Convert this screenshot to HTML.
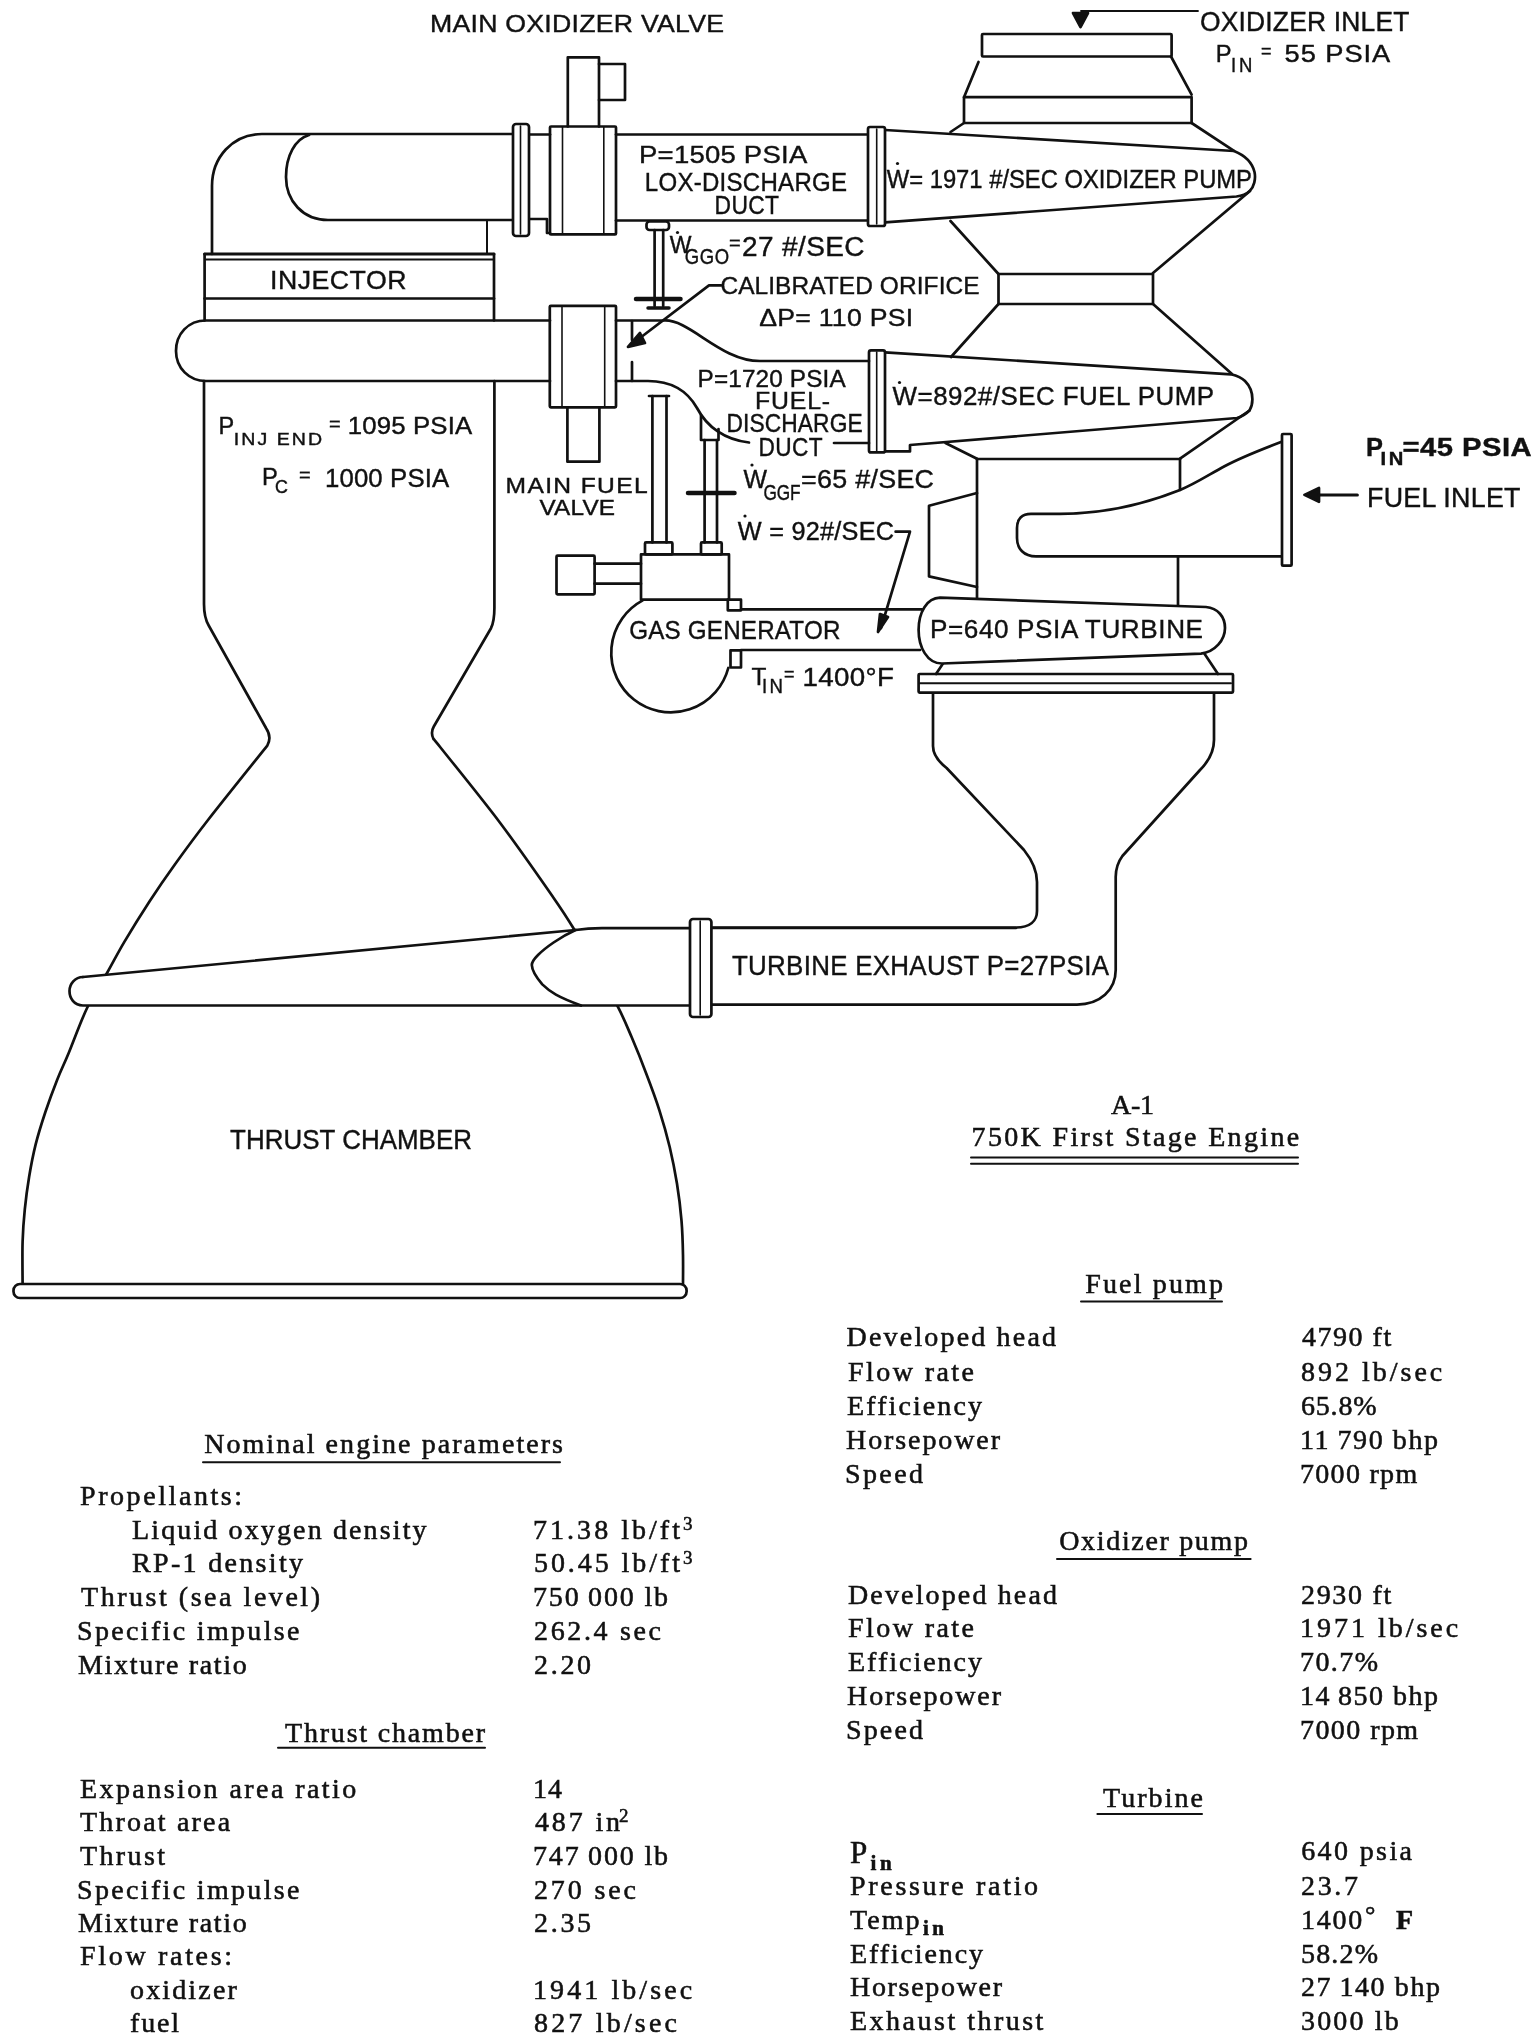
<!DOCTYPE html>
<html><head><meta charset="utf-8"><style>
html,body{margin:0;padding:0;background:#fff;}
body{width:1539px;height:2041px;overflow:hidden;}
svg{display:block;filter:grayscale(1);}
</style></head><body>
<svg width="1539" height="2041" viewBox="0 0 1539 2041">
<rect width="1539" height="2041" fill="#fff"/>
<g id="draw" fill="none" stroke="#111" stroke-width="2.7" stroke-linecap="round" stroke-linejoin="round">
<path d="M212,254 V186 C212,158 232,134 262,134 H513"/>
<path d="M309,135 C295,139 286,156 286,177 C286,201 303,220 328,220 H513"/>
<path d="M529,134.5 L550,134.5"/>
<path d="M529,219 H547 V233 H550"/>
<path d="M616,134.5 L868,134.5"/>
<path d="M616,220.5 L868,220.5"/>
<rect x="513.0" y="124.0" width="16.0" height="112.0" rx="3" fill="#fff"/>
<path d="M520.5,126 L520.5,234" stroke-width="1.6"/>
<rect x="550.0" y="126.5" width="66.0" height="107.9" rx="1"/>
<path d="M562.5,127 L562.5,234" stroke-width="1.6"/>
<path d="M603.8,127 L603.8,234" stroke-width="1.6"/>
<path d="M567.8,126.5 V57.3 H599 V126.5"/>
<path d="M599,64 H625 V100 H599"/>
<path d="M487,220 L487,254" stroke-width="2"/>
<path d="M204.6,254 L494,254" stroke-width="3"/>
<path d="M206,259.5 L493,259.5" stroke-width="2"/>
<path d="M204.6,254 L204.6,320.5"/>
<path d="M494,254 L494,320.5"/>
<path d="M204.6,298.5 L494,298.5"/>
<path d="M550,320.5 H206 C188,320.5 176,334 176,351 C176,368 189,381 206,381 H550"/>
<rect x="549.8" y="305.8" width="66.2" height="101.5" rx="1"/>
<path d="M562,306.5 L562,407" stroke-width="1.6"/>
<path d="M604.7,306.5 L604.7,407" stroke-width="1.6"/>
<path d="M567.4,407.3 V461.7 H599.4 V407.3"/>
<path d="M204,381 V604 C204,614 205.5,620 208.7,625.5 L266,728 C270,734 270.5,740 267.3,745.6 C257.4,758.0 223.3,800.3 208.0,820.0 C192.7,839.7 184.9,850.5 175.2,864.0 C165.5,877.5 158.2,888.1 149.8,901.0 C141.4,913.9 131.5,929.8 124.5,941.6 C117.5,953.4 113.8,961.0 107.6,972.0 C101.4,983.0 93.8,994.0 87.3,1007.5 C80.8,1021.0 73.7,1040.9 68.7,1053.0 C63.7,1065.1 61.0,1070.1 57.1,1080.0 C53.2,1089.9 48.9,1101.5 45.3,1112.3 C41.7,1123.1 38.3,1133.9 35.6,1144.7 C32.9,1155.5 30.9,1166.2 29.1,1177.0 C27.3,1187.8 25.9,1198.6 24.8,1209.4 C23.7,1220.2 23.0,1229.3 22.6,1241.7 C22.2,1254.1 22.6,1277.0 22.6,1284.0"/>
<path d="M494.4,381 V608 C494.4,618 493,624 491,628.2 L433.8,726.5 C431.5,730.5 431.5,735 433.5,739 C434.7,740.4 429.4,733.5 440.5,747.5 C451.6,761.5 481.5,798.1 500.2,823.0 C518.9,847.9 540.5,879.0 552.8,896.7 C565.1,914.4 566.7,917.1 573.9,929.0 C581.1,940.9 588.6,954.9 596.0,968.0 C603.4,981.1 612.3,995.9 618.2,1007.4 C624.1,1018.9 626.8,1025.8 631.5,1036.8 C636.2,1047.8 641.6,1061.2 646.2,1073.5 C650.9,1085.8 655.5,1098.0 659.4,1110.3 C663.3,1122.5 666.8,1134.8 669.7,1147.0 C672.6,1159.2 675.0,1171.5 677.0,1183.8 C679.0,1196.1 680.5,1208.7 681.5,1220.6 C682.5,1232.5 682.8,1244.4 683.0,1255.0 C683.2,1265.6 683.0,1279.2 683.0,1284.0"/>
<rect x="13.5" y="1284.0" width="673.1" height="14.0" rx="6.5" fill="#fff"/>
<path d="M83,977 L575.6,930 L602,928.2 H690 V1005.5 H83 C74,1005.5 69.5,998 69.5,991 C69.5,984 75,977 83,977 Z" fill="#fff" stroke="none"/>
<path d="M83,977 L575.6,930 C585,928.6 592,928.2 602,928.2 H690"/>
<path d="M690,1005.5 H83 C74,1005.5 69.5,998 69.5,991 C69.5,984 75,977 83,977"/>
<path d="M575.6,930 C560,937 545,948 538,955 C533,960 531.8,963 531.8,965 C532,970 536,977 542.3,984.4 C550,992 558,997 581,1005.5"/>
<path d="M711.4,928 L1016,928"/>
<path d="M933,692.6 V746 C933,755 939,762 946.6,768 L1024,850 C1032,860 1037,870 1037,882 V911 C1037,921 1030,927.5 1016,927.5 H711.4"/>
<path d="M1214,692.6 V740 C1214,752 1208,762 1200,770 L1122.4,856 C1118,862 1115.7,868 1115.7,877 V970 C1115.7,990 1100,1004.6 1077,1004.6 H711.4"/>
<rect x="690.0" y="919.0" width="21.4" height="98.0" rx="3" fill="#fff"/>
<path d="M700.2,921 L700.2,1015" stroke-width="1.6"/>
<rect x="918.6" y="674.0" width="314.4" height="18.6" rx="1" fill="#fff"/>
<path d="M920,683.3 L1231,683.3" stroke-width="2"/>
<path d="M936,674 L944,662"/>
<path d="M1218,674 L1204,653"/>
<path d="M940,597.7 L1206,607 C1218,608 1225,617 1225,628 C1225,640 1215,652 1201,653.6 L942,663.5 C927,663.5 918.6,647 918.6,630 C918.6,612 927,598 940,597.7 Z" fill="#fff"/>
<path d="M977,459 L1180,459"/>
<path d="M977,459 L977,597.7"/>
<path d="M1180,459 L1180,490"/>
<path d="M1178,556.4 L1178,604.5"/>
<path d="M977,493 L929,505.8 V576.4 L977,587"/>
<path d="M1281,442 C1260,450 1240,458 1225,466 C1210,474 1195,484 1180,490 C1140,506 1100,513.8 1060,513.8 H1031 C1022,513.8 1017,519 1017,528 V538 C1017,549 1024,556.4 1036,556.4 H1282"/>
<rect x="1282.0" y="434.0" width="9.6" height="131.7" rx="1" fill="#fff"/>
<path d="M885,352.3 L1231,374.3 C1238,376 1242,378 1245,381 C1249,385 1252.4,392 1252.4,399.3 C1252.4,405 1251,408 1249.5,410.5 C1246,414 1242,416.5 1237,418 L910,445 V451.4 H885"/>
<path d="M951,357 L998.5,304"/>
<path d="M1153,304 L1232,374"/>
<path d="M945.5,443 L977,458.7"/>
<path d="M1249.5,410.5 L1180,458.7"/>
<rect x="869.0" y="350.4" width="16.0" height="102.0" rx="2" fill="#fff"/>
<path d="M876.7,352 L876.7,451" stroke-width="1.6"/>
<rect x="998.5" y="274.0" width="154.5" height="30.0" rx="0"/>
<path d="M885,130 L1234,151 C1244,155 1252,162 1254.5,172 C1256,179 1254,187 1249.7,191 C1246,194.5 1241,196 1236.4,196.5 L885,222.4"/>
<rect x="868.0" y="127.0" width="17.0" height="99.0" rx="2" fill="#fff"/>
<path d="M876.7,129 L876.7,224" stroke-width="1.6"/>
<path d="M950.5,221 L998.5,274"/>
<path d="M1250,191 L1153,273"/>
<path d="M950.5,132 L964,123"/>
<path d="M1191.6,123 L1234,150.8"/>
<path d="M964,97.2 H1191.6 V123 H964 Z"/>
<path d="M978.5,62 L964,97.2"/>
<path d="M1171,56.5 L1191.6,94.6"/>
<rect x="982.0" y="34.0" width="189.6" height="22.5" rx="1"/>
<path d="M1081,11 L1198,11" stroke-width="1.8"/>
<path d="M1073,13 L1088,13 L1080.5,27 Z" fill="#111"/>
<rect x="646.5" y="221.5" width="22.5" height="8.5" rx="3"/>
<path d="M654.6,230 L654.6,306"/>
<path d="M663.2,230 L663.2,306"/>
<path d="M636,299 L680.5,299" stroke-width="4.5"/>
<path d="M648,308 L669,308" stroke-width="3.5"/>
<path d="M632,321 L632,340"/>
<path d="M632,362 L632,381"/>
<path d="M721,285.4 H709 L636,341"/>
<path d="M628,347 L640,333 L645,343 Z" fill="#111"/>
<path d="M616,320.5 H664 C690,319 720,361 760,361 H869"/>
<path d="M616,381 H648 C672,381 688,392 697,408 C707,427 725,440 749,442.5"/>
<path d="M834,443 L869,443"/>
<path d="M649,396 L669,396"/>
<path d="M652.4,396 L652.4,542.4"/>
<path d="M666.5,396 L666.5,542.4"/>
<path d="M701,415 V440 H718.5 V429"/>
<path d="M704.6,440 L704.6,542.4"/>
<path d="M717,440 L717,542.4"/>
<path d="M688,493 L734.5,493" stroke-width="4.5"/>
<rect x="645.0" y="542.4" width="27.4" height="12.0" rx="1"/>
<rect x="701.0" y="542.4" width="20.7" height="12.0" rx="1"/>
<rect x="641.0" y="554.4" width="88.0" height="45.3" rx="0"/>
<path d="M594.6,563.7 L641,563.7"/>
<path d="M594.6,583.7 L641,583.7"/>
<rect x="556.5" y="555.7" width="38.1" height="38.6" rx="1"/>
<rect x="727.8" y="599.7" width="13.2" height="10.6" rx="0"/>
<path d="M642.7,600.4 A59.5,59.5 0 1 0 728.3,668"/>
<rect x="730.5" y="650.3" width="10.5" height="17.2" rx="0"/>
<path d="M741,609.3 L922,609.3"/>
<path d="M741,650 L920,650"/>
<path d="M895.6,531.7 H910 L881,628"/>
<path d="M878,632 L880,614 L888,617 Z" fill="#111"/>
<circle cx="677.5" cy="232.5" r="1.6" fill="#111" stroke="none"/>
<circle cx="897.5" cy="163.5" r="1.6" fill="#111" stroke="none"/>
<circle cx="752" cy="465" r="1.6" fill="#111" stroke="none"/>
<circle cx="899.5" cy="382.5" r="1.6" fill="#111" stroke="none"/>
<circle cx="745" cy="516" r="1.6" fill="#111" stroke="none"/>
<path d="M1316,494.9 L1357.4,494.9" stroke-width="3"/>
<path d="M1304.4,494.9 L1319,488 L1319,501.8 Z" fill="#111"/>
<path d="M971,1157.6 H1298" stroke-width="2"/>
<path d="M971,1163.7 H1298" stroke-width="2"/>
<path d="M1081,1301.5 H1222" stroke-width="2"/>
<path d="M203,1462.3 H560" stroke-width="2"/>
<path d="M278,1747.7 H485" stroke-width="2"/>
<path d="M1057,1559 H1250.6" stroke-width="2"/>
<path d="M1097.4,1814 H1202" stroke-width="2"/>
</g>
<g id="text" fill="#111">
<text id="t0" transform="translate(430.0,0) scale(1.107,1)" x="0" y="32.2" font-size="24.1" font-family='"Liberation Sans", sans-serif' textLength="265.6" lengthAdjust="spacing" stroke="#111" stroke-width="0.4">MAIN OXIDIZER VALVE</text>
<text id="t1" transform="translate(1200.0,0) scale(0.991,1)" x="0" y="31.4" font-size="26.7" font-family='"Liberation Sans", sans-serif' textLength="211.3" lengthAdjust="spacing" stroke="#111" stroke-width="0.4">OXIDIZER INLET</text>
<text id="t2" transform="translate(1215.8,0) scale(1.0,1)" x="0" y="62.2" font-size="23.7" font-family='"Liberation Sans", sans-serif' stroke="#111" stroke-width="0.4">P</text>
<text id="t3" transform="translate(1231.0,0) scale(0.949,1)" x="0" y="72.2" font-size="19.5" font-family='"Liberation Sans", sans-serif' textLength="22.6" lengthAdjust="spacing" stroke="#111" stroke-width="0.4">IN</text>
<text id="t4" transform="translate(1261.0,0) scale(1.0,1)" x="0" y="57.0" font-size="18.0" font-family='"Liberation Sans", sans-serif' stroke="#111" stroke-width="0.4">=</text>
<text id="t5" transform="translate(1284.6,0) scale(1.15,1)" x="0" y="62.2" font-size="23.7" font-family='"Liberation Sans", sans-serif' textLength="91.8" lengthAdjust="spacing" stroke="#111" stroke-width="0.4">55 PSIA</text>
<text id="t6" transform="translate(639.0,0) scale(1.127,1)" x="0" y="163.0" font-size="24.4" font-family='"Liberation Sans", sans-serif' textLength="149.3" lengthAdjust="spacing" stroke="#111" stroke-width="0.4">P=1505 PSIA</text>
<text id="t7" transform="translate(644.8,0) scale(0.918,1)" x="0" y="191.2" font-size="26.2" font-family='"Liberation Sans", sans-serif' textLength="220.3" lengthAdjust="spacing" stroke="#111" stroke-width="0.4">LOX-DISCHARGE</text>
<text id="t8" transform="translate(714.6,0) scale(0.892,1)" x="0" y="213.6" font-size="25.6" font-family='"Liberation Sans", sans-serif' textLength="72.2" lengthAdjust="spacing" stroke="#111" stroke-width="0.4">DUCT</text>
<text id="t9" transform="translate(886.8,0) scale(0.956,1)" x="0" y="188.4" font-size="24.9" font-family='"Liberation Sans", sans-serif' textLength="382.0" lengthAdjust="spacing" stroke="#111" stroke-width="0.4">W= 1971 #/SEC OXIDIZER PUMP</text>
<text id="t10" transform="translate(270.0,0) scale(1.028,1)" x="0" y="288.6" font-size="26.0" font-family='"Liberation Sans", sans-serif' textLength="132.8" lengthAdjust="spacing" stroke="#111" stroke-width="0.4">INJECTOR</text>
<text id="t11" transform="translate(669.8,0) scale(1.0,1)" x="0" y="253.3" font-size="23.0" font-family='"Liberation Sans", sans-serif' stroke="#111" stroke-width="0.4">W</text>
<text id="t12" transform="translate(684.8,0) scale(0.871,1)" x="0" y="264.4" font-size="21.2" font-family='"Liberation Sans", sans-serif' textLength="51.0" lengthAdjust="spacing" stroke="#111" stroke-width="0.4">GGO</text>
<text id="t13" transform="translate(729.0,0) scale(1.0,1)" x="0" y="250.0" font-size="20.0" font-family='"Liberation Sans", sans-serif' stroke="#111" stroke-width="0.4">=</text>
<text id="t14" transform="translate(742.0,0) scale(1.036,1)" x="0" y="255.8" font-size="27.0" font-family='"Liberation Sans", sans-serif' textLength="118.2" lengthAdjust="spacing" stroke="#111" stroke-width="0.4">27 #/SEC</text>
<text id="t15" transform="translate(720.4,0) scale(0.99,1)" x="0" y="294.0" font-size="24.7" font-family='"Liberation Sans", sans-serif' textLength="261.8" lengthAdjust="spacing" stroke="#111" stroke-width="0.4">CALIBRATED ORIFICE</text>
<text id="t16" transform="translate(759.2,0) scale(1.119,1)" x="0" y="326.1" font-size="23.8" font-family='"Liberation Sans", sans-serif' textLength="137.5" lengthAdjust="spacing" stroke="#111" stroke-width="0.4">ΔP= 110 PSI</text>
<text id="t17" transform="translate(697.6,0) scale(1.056,1)" x="0" y="386.6" font-size="23.0" font-family='"Liberation Sans", sans-serif' textLength="140.2" lengthAdjust="spacing" stroke="#111" stroke-width="0.4">P=1720 PSIA</text>
<text id="t18" transform="translate(755.0,0) scale(1.017,1)" x="0" y="409.0" font-size="24.4" font-family='"Liberation Sans", sans-serif' textLength="73.9" lengthAdjust="spacing" stroke="#111" stroke-width="0.4">FUEL-</text>
<text id="t19" transform="translate(726.6,0) scale(0.914,1)" x="0" y="431.8" font-size="24.9" font-family='"Liberation Sans", sans-serif' textLength="148.8" lengthAdjust="spacing" stroke="#111" stroke-width="0.4">DISCHARGE</text>
<text id="t20" transform="translate(758.4,0) scale(0.911,1)" x="0" y="455.8" font-size="24.9" font-family='"Liberation Sans", sans-serif' textLength="70.5" lengthAdjust="spacing" stroke="#111" stroke-width="0.4">DUCT</text>
<text id="t21" transform="translate(892.6,0) scale(1.02,1)" x="0" y="405.5" font-size="25.4" font-family='"Liberation Sans", sans-serif' textLength="315.1" lengthAdjust="spacing" stroke="#111" stroke-width="0.4">W=892#/SEC  FUEL PUMP</text>
<text id="t22" transform="translate(218.6,0) scale(1.0,1)" x="0" y="434.4" font-size="23.5" font-family='"Liberation Sans", sans-serif' stroke="#111" stroke-width="0.4">P</text>
<text id="t23" transform="translate(233.8,0) scale(1.15,1)" x="0" y="444.8" font-size="17.0" font-family='"Liberation Sans", sans-serif' textLength="76.7" lengthAdjust="spacing" stroke="#111" stroke-width="0.4">INJ END</text>
<text id="t24" transform="translate(329.0,0) scale(1.0,1)" x="0" y="431.0" font-size="20.0" font-family='"Liberation Sans", sans-serif' stroke="#111" stroke-width="0.4">=</text>
<text id="t25" transform="translate(347.8,0) scale(1.096,1)" x="0" y="434.4" font-size="23.5" font-family='"Liberation Sans", sans-serif' textLength="113.5" lengthAdjust="spacing" stroke="#111" stroke-width="0.4">1095 PSIA</text>
<text id="t26" transform="translate(262.0,0) scale(1.0,1)" x="0" y="485.2" font-size="23.7" font-family='"Liberation Sans", sans-serif' stroke="#111" stroke-width="0.4">P</text>
<text id="t27" transform="translate(275.0,0) scale(1.0,1)" x="0" y="493.2" font-size="17.9" font-family='"Liberation Sans", sans-serif' stroke="#111" stroke-width="0.4">C</text>
<text id="t28" transform="translate(299.0,0) scale(1.0,1)" x="0" y="482.0" font-size="20.0" font-family='"Liberation Sans", sans-serif' stroke="#111" stroke-width="0.4">=</text>
<text id="t29" transform="translate(325.0,0) scale(0.996,1)" x="0" y="486.7" font-size="25.9" font-family='"Liberation Sans", sans-serif' textLength="124.7" lengthAdjust="spacing" stroke="#111" stroke-width="0.4">1000 PSIA</text>
<text id="t30" transform="translate(505.6,0) scale(1.15,1)" x="0" y="493.2" font-size="21.4" font-family='"Liberation Sans", sans-serif' textLength="123.5" lengthAdjust="spacing" stroke="#111" stroke-width="0.4">MAIN FUEL</text>
<text id="t31" transform="translate(539.4,0) scale(1.131,1)" x="0" y="515.0" font-size="21.5" font-family='"Liberation Sans", sans-serif' textLength="66.9" lengthAdjust="spacing" stroke="#111" stroke-width="0.4">VALVE</text>
<text id="t32" transform="translate(743.6,0) scale(1.0,1)" x="0" y="487.8" font-size="24.9" font-family='"Liberation Sans", sans-serif' stroke="#111" stroke-width="0.4">W</text>
<text id="t33" transform="translate(763.4,0) scale(0.8,1)" x="0" y="500.0" font-size="21.5" font-family='"Liberation Sans", sans-serif' textLength="46.3" lengthAdjust="spacing" stroke="#111" stroke-width="0.4">GGF</text>
<text id="t34" transform="translate(801.0,0) scale(1.071,1)" x="0" y="488.0" font-size="25.1" font-family='"Liberation Sans", sans-serif' textLength="124.2" lengthAdjust="spacing" stroke="#111" stroke-width="0.4">=65 #/SEC</text>
<text id="t35" transform="translate(737.8,0) scale(0.996,1)" x="0" y="539.7" font-size="25.4" font-family='"Liberation Sans", sans-serif' textLength="156.9" lengthAdjust="spacing" stroke="#111" stroke-width="0.4">W = 92#/SEC</text>
<text id="t36" transform="translate(1366.0,0) scale(1.0,1)" x="0" y="456.2" font-size="25.4" font-family='"Liberation Sans", sans-serif' font-weight="bold" stroke="#111" stroke-width="0.4">P</text>
<text id="t37" transform="translate(1380.6,0) scale(1.122,1)" x="0" y="464.6" font-size="18.0" font-family='"Liberation Sans", sans-serif' font-weight="bold" textLength="20.2" lengthAdjust="spacing" stroke="#111" stroke-width="0.4">IN</text>
<text id="t38" transform="translate(1402.4,0) scale(1.15,1)" x="0" y="456.2" font-size="25.4" font-family='"Liberation Sans", sans-serif' font-weight="bold" textLength="112.4" lengthAdjust="spacing" stroke="#111" stroke-width="0.4">=45 PSIA</text>
<text id="t39" transform="translate(1367.0,0) scale(0.998,1)" x="0" y="506.7" font-size="26.9" font-family='"Liberation Sans", sans-serif' textLength="153.8" lengthAdjust="spacing" stroke="#111" stroke-width="0.4">FUEL INLET</text>
<text id="t40" transform="translate(629.2,0) scale(0.906,1)" x="0" y="638.6" font-size="26.7" font-family='"Liberation Sans", sans-serif' textLength="233.1" lengthAdjust="spacing" stroke="#111" stroke-width="0.4">GAS GENERATOR</text>
<text id="t41" transform="translate(930.0,0) scale(0.985,1)" x="0" y="638.2" font-size="26.5" font-family='"Liberation Sans", sans-serif' textLength="277.2" lengthAdjust="spacing" stroke="#111" stroke-width="0.4">P=640 PSIA  TURBINE</text>
<text id="t42" transform="translate(751.6,0) scale(1.0,1)" x="0" y="685.0" font-size="24.4" font-family='"Liberation Sans", sans-serif' stroke="#111" stroke-width="0.4">T</text>
<text id="t43" transform="translate(762.0,0) scale(0.949,1)" x="0" y="693.0" font-size="19.6" font-family='"Liberation Sans", sans-serif' textLength="22.0" lengthAdjust="spacing" stroke="#111" stroke-width="0.4">IN</text>
<text id="t44" transform="translate(784.0,0) scale(1.0,1)" x="0" y="680.0" font-size="18.0" font-family='"Liberation Sans", sans-serif' stroke="#111" stroke-width="0.4">=</text>
<text id="t45" transform="translate(802.4,0) scale(1.114,1)" x="0" y="685.7" font-size="24.9" font-family='"Liberation Sans", sans-serif' textLength="82.1" lengthAdjust="spacing" stroke="#111" stroke-width="0.4">1400°F</text>
<text id="t46" transform="translate(732.0,0) scale(0.95,1)" x="0" y="975.0" font-size="27.3" font-family='"Liberation Sans", sans-serif' textLength="396.8" lengthAdjust="spacing" stroke="#111" stroke-width="0.4">TURBINE EXHAUST  P=27PSIA</text>
<text id="t47" transform="translate(230.0,0) scale(0.949,1)" x="0" y="1149.0" font-size="27.3" font-family='"Liberation Sans", sans-serif' textLength="255.0" lengthAdjust="spacing" stroke="#111" stroke-width="0.4">THRUST CHAMBER</text>
<text id="t48" transform="translate(1111.0,0) scale(1.0,1)" x="0" y="1113.7" font-size="28.0" font-family='"Liberation Serif", serif' textLength="43.0" lengthAdjust="spacing" stroke="#111" stroke-width="0.55">A-1</text>
<text id="t49" transform="translate(971.6,0) scale(1.0,1)" x="0" y="1146.0" font-size="28.0" font-family='"Liberation Serif", serif' textLength="327.6" lengthAdjust="spacing" stroke="#111" stroke-width="0.55">750K First Stage Engine</text>
<text id="t50" transform="translate(1085.2,0) scale(1.0,1)" x="0" y="1293.2" font-size="28.0" font-family='"Liberation Serif", serif' textLength="137.8" lengthAdjust="spacing" stroke="#111" stroke-width="0.55">Fuel pump</text>
<text id="t51" transform="translate(204.2,0) scale(1.0,1)" x="0" y="1452.7" font-size="28.0" font-family='"Liberation Serif", serif' textLength="358.8" lengthAdjust="spacing" stroke="#111" stroke-width="0.55">Nominal engine parameters</text>
<text id="t52" transform="translate(285.0,0) scale(1.0,1)" x="0" y="1742.3" font-size="28.0" font-family='"Liberation Serif", serif' textLength="200.0" lengthAdjust="spacing" stroke="#111" stroke-width="0.55">Thrust chamber</text>
<text id="t53" transform="translate(1059.2,0) scale(1.0,1)" x="0" y="1550.0" font-size="28.0" font-family='"Liberation Serif", serif' textLength="188.8" lengthAdjust="spacing" stroke="#111" stroke-width="0.55">Oxidizer pump</text>
<text id="t54" transform="translate(1103.0,0) scale(1.0,1)" x="0" y="1807.4" font-size="28.0" font-family='"Liberation Serif", serif' textLength="100.0" lengthAdjust="spacing" stroke="#111" stroke-width="0.55">Turbine</text>
<text id="t55" transform="translate(80.0,0) scale(1.0,1)" x="0" y="1504.7" font-size="28.0" font-family='"Liberation Serif", serif' textLength="162.1" lengthAdjust="spacing" stroke="#111" stroke-width="0.55">Propellants:</text>
<text id="t56" transform="translate(132.0,0) scale(1.0,1)" x="0" y="1538.8" font-size="28.0" font-family='"Liberation Serif", serif' textLength="294.6" lengthAdjust="spacing" stroke="#111" stroke-width="0.55">Liquid oxygen density</text>
<text id="t57" transform="translate(533.0,0) scale(1.0,1)" x="0" y="1538.8" font-size="28.0" font-family='"Liberation Serif", serif' textLength="147.0" lengthAdjust="spacing" stroke="#111" stroke-width="0.55">71.38 lb/ft</text>
<text id="t58" transform="translate(132.0,0) scale(1.0,1)" x="0" y="1572.3" font-size="28.0" font-family='"Liberation Serif", serif' textLength="171.0" lengthAdjust="spacing" stroke="#111" stroke-width="0.55">RP-1 density</text>
<text id="t59" transform="translate(534.0,0) scale(1.0,1)" x="0" y="1572.3" font-size="28.0" font-family='"Liberation Serif", serif' textLength="146.0" lengthAdjust="spacing" stroke="#111" stroke-width="0.55">50.45 lb/ft</text>
<text id="t60" transform="translate(81.0,0) scale(1.0,1)" x="0" y="1606.0" font-size="28.0" font-family='"Liberation Serif", serif' textLength="239.0" lengthAdjust="spacing" stroke="#111" stroke-width="0.55">Thrust (sea level)</text>
<text id="t61" transform="translate(533.0,0) scale(1.0,1)" x="0" y="1606.0" font-size="28.0" font-family='"Liberation Serif", serif' textLength="135.1" lengthAdjust="spacing" stroke="#111" stroke-width="0.55">750 000 lb</text>
<text id="t62" transform="translate(77.0,0) scale(1.0,1)" x="0" y="1640.3" font-size="28.0" font-family='"Liberation Serif", serif' textLength="222.5" lengthAdjust="spacing" stroke="#111" stroke-width="0.55">Specific impulse</text>
<text id="t63" transform="translate(534.0,0) scale(1.0,1)" x="0" y="1640.3" font-size="28.0" font-family='"Liberation Serif", serif' textLength="127.0" lengthAdjust="spacing" stroke="#111" stroke-width="0.55">262.4 sec</text>
<text id="t64" transform="translate(78.0,0) scale(1.0,1)" x="0" y="1673.8" font-size="28.0" font-family='"Liberation Serif", serif' textLength="168.8" lengthAdjust="spacing" stroke="#111" stroke-width="0.55">Mixture ratio</text>
<text id="t65" transform="translate(534.0,0) scale(1.0,1)" x="0" y="1673.8" font-size="28.0" font-family='"Liberation Serif", serif' textLength="57.1" lengthAdjust="spacing" stroke="#111" stroke-width="0.55">2.20</text>
<text id="t66" transform="translate(80.0,0) scale(1.0,1)" x="0" y="1797.8" font-size="28.0" font-family='"Liberation Serif", serif' textLength="276.2" lengthAdjust="spacing" stroke="#111" stroke-width="0.55">Expansion area ratio</text>
<text id="t67" transform="translate(533.0,0) scale(1.0,1)" x="0" y="1797.8" font-size="28.0" font-family='"Liberation Serif", serif' textLength="29.1" lengthAdjust="spacing" stroke="#111" stroke-width="0.55">14</text>
<text id="t68" transform="translate(80.0,0) scale(1.0,1)" x="0" y="1831.0" font-size="28.0" font-family='"Liberation Serif", serif' textLength="150.1" lengthAdjust="spacing" stroke="#111" stroke-width="0.55">Throat area</text>
<text id="t69" transform="translate(535.0,0) scale(1.0,1)" x="0" y="1831.0" font-size="28.0" font-family='"Liberation Serif", serif' textLength="85.0" lengthAdjust="spacing" stroke="#111" stroke-width="0.55">487 in</text>
<text id="t70" transform="translate(80.0,0) scale(1.0,1)" x="0" y="1864.6" font-size="28.0" font-family='"Liberation Serif", serif' textLength="85.0" lengthAdjust="spacing" stroke="#111" stroke-width="0.55">Thrust</text>
<text id="t71" transform="translate(533.0,0) scale(1.0,1)" x="0" y="1864.6" font-size="28.0" font-family='"Liberation Serif", serif' textLength="135.1" lengthAdjust="spacing" stroke="#111" stroke-width="0.55">747 000 lb</text>
<text id="t72" transform="translate(77.0,0) scale(1.0,1)" x="0" y="1898.7" font-size="28.0" font-family='"Liberation Serif", serif' textLength="222.5" lengthAdjust="spacing" stroke="#111" stroke-width="0.55">Specific impulse</text>
<text id="t73" transform="translate(534.0,0) scale(1.0,1)" x="0" y="1898.7" font-size="28.0" font-family='"Liberation Serif", serif' textLength="102.0" lengthAdjust="spacing" stroke="#111" stroke-width="0.55">270 sec</text>
<text id="t74" transform="translate(78.0,0) scale(1.0,1)" x="0" y="1931.5" font-size="28.0" font-family='"Liberation Serif", serif' textLength="168.8" lengthAdjust="spacing" stroke="#111" stroke-width="0.55">Mixture ratio</text>
<text id="t75" transform="translate(534.0,0) scale(1.0,1)" x="0" y="1931.5" font-size="28.0" font-family='"Liberation Serif", serif' textLength="57.1" lengthAdjust="spacing" stroke="#111" stroke-width="0.55">2.35</text>
<text id="t76" transform="translate(80.0,0) scale(1.0,1)" x="0" y="1965.0" font-size="28.0" font-family='"Liberation Serif", serif' textLength="152.1" lengthAdjust="spacing" stroke="#111" stroke-width="0.55">Flow rates:</text>
<text id="t77" transform="translate(130.0,0) scale(1.0,1)" x="0" y="1999.0" font-size="28.0" font-family='"Liberation Serif", serif' textLength="106.8" lengthAdjust="spacing" stroke="#111" stroke-width="0.55">oxidizer</text>
<text id="t78" transform="translate(533.0,0) scale(1.0,1)" x="0" y="1999.0" font-size="28.0" font-family='"Liberation Serif", serif' textLength="159.1" lengthAdjust="spacing" stroke="#111" stroke-width="0.55">1941 lb/sec</text>
<text id="t79" transform="translate(130.0,0) scale(1.0,1)" x="0" y="2032.3" font-size="28.0" font-family='"Liberation Serif", serif' textLength="49.0" lengthAdjust="spacing" stroke="#111" stroke-width="0.55">fuel</text>
<text id="t80" transform="translate(534.0,0) scale(1.0,1)" x="0" y="2032.3" font-size="28.0" font-family='"Liberation Serif", serif' textLength="143.0" lengthAdjust="spacing" stroke="#111" stroke-width="0.55">827 lb/sec</text>
<text id="t81" transform="translate(846.6,0) scale(1.0,1)" x="0" y="1346.4" font-size="28.0" font-family='"Liberation Serif", serif' textLength="209.4" lengthAdjust="spacing" stroke="#111" stroke-width="0.55">Developed head</text>
<text id="t82" transform="translate(1302.0,0) scale(1.0,1)" x="0" y="1346.4" font-size="28.0" font-family='"Liberation Serif", serif' textLength="89.2" lengthAdjust="spacing" stroke="#111" stroke-width="0.55">4790 ft</text>
<text id="t83" transform="translate(848.0,0) scale(1.0,1)" x="0" y="1380.5" font-size="28.0" font-family='"Liberation Serif", serif' textLength="126.0" lengthAdjust="spacing" stroke="#111" stroke-width="0.55">Flow rate</text>
<text id="t84" transform="translate(1301.0,0) scale(1.0,1)" x="0" y="1380.5" font-size="28.0" font-family='"Liberation Serif", serif' textLength="141.3" lengthAdjust="spacing" stroke="#111" stroke-width="0.55">892 lb/sec</text>
<text id="t85" transform="translate(847.0,0) scale(1.0,1)" x="0" y="1414.6" font-size="28.0" font-family='"Liberation Serif", serif' textLength="135.0" lengthAdjust="spacing" stroke="#111" stroke-width="0.55">Efficiency</text>
<text id="t86" transform="translate(1301.0,0) scale(1.0,1)" x="0" y="1414.6" font-size="28.0" font-family='"Liberation Serif", serif' textLength="75.5" lengthAdjust="spacing" stroke="#111" stroke-width="0.55">65.8%</text>
<text id="t87" transform="translate(846.0,0) scale(1.0,1)" x="0" y="1448.7" font-size="28.0" font-family='"Liberation Serif", serif' textLength="154.0" lengthAdjust="spacing" stroke="#111" stroke-width="0.55">Horsepower</text>
<text id="t88" transform="translate(1300.0,0) scale(1.0,1)" x="0" y="1448.7" font-size="28.0" font-family='"Liberation Serif", serif' textLength="138.1" lengthAdjust="spacing" stroke="#111" stroke-width="0.55">11 790 bhp</text>
<text id="t89" transform="translate(845.0,0) scale(1.0,1)" x="0" y="1482.8" font-size="28.0" font-family='"Liberation Serif", serif' textLength="78.0" lengthAdjust="spacing" stroke="#111" stroke-width="0.55">Speed</text>
<text id="t90" transform="translate(1300.0,0) scale(1.0,1)" x="0" y="1482.8" font-size="28.0" font-family='"Liberation Serif", serif' textLength="117.2" lengthAdjust="spacing" stroke="#111" stroke-width="0.55">7000 rpm</text>
<text id="t91" transform="translate(848.0,0) scale(1.0,1)" x="0" y="1603.6" font-size="28.0" font-family='"Liberation Serif", serif' textLength="209.0" lengthAdjust="spacing" stroke="#111" stroke-width="0.55">Developed head</text>
<text id="t92" transform="translate(1301.0,0) scale(1.0,1)" x="0" y="1603.6" font-size="28.0" font-family='"Liberation Serif", serif' textLength="90.2" lengthAdjust="spacing" stroke="#111" stroke-width="0.55">2930 ft</text>
<text id="t93" transform="translate(848.0,0) scale(1.0,1)" x="0" y="1636.8" font-size="28.0" font-family='"Liberation Serif", serif' textLength="126.0" lengthAdjust="spacing" stroke="#111" stroke-width="0.55">Flow rate</text>
<text id="t94" transform="translate(1300.0,0) scale(1.0,1)" x="0" y="1636.8" font-size="28.0" font-family='"Liberation Serif", serif' textLength="158.2" lengthAdjust="spacing" stroke="#111" stroke-width="0.55">1971 lb/sec</text>
<text id="t95" transform="translate(848.0,0) scale(1.0,1)" x="0" y="1671.0" font-size="28.0" font-family='"Liberation Serif", serif' textLength="134.0" lengthAdjust="spacing" stroke="#111" stroke-width="0.55">Efficiency</text>
<text id="t96" transform="translate(1300.0,0) scale(1.0,1)" x="0" y="1671.0" font-size="28.0" font-family='"Liberation Serif", serif' textLength="78.0" lengthAdjust="spacing" stroke="#111" stroke-width="0.55">70.7%</text>
<text id="t97" transform="translate(847.0,0) scale(1.0,1)" x="0" y="1705.0" font-size="28.0" font-family='"Liberation Serif", serif' textLength="154.0" lengthAdjust="spacing" stroke="#111" stroke-width="0.55">Horsepower</text>
<text id="t98" transform="translate(1300.0,0) scale(1.0,1)" x="0" y="1705.0" font-size="28.0" font-family='"Liberation Serif", serif' textLength="138.1" lengthAdjust="spacing" stroke="#111" stroke-width="0.55">14 850 bhp</text>
<text id="t99" transform="translate(846.0,0) scale(1.0,1)" x="0" y="1739.0" font-size="28.0" font-family='"Liberation Serif", serif' textLength="77.0" lengthAdjust="spacing" stroke="#111" stroke-width="0.55">Speed</text>
<text id="t100" transform="translate(1300.0,0) scale(1.0,1)" x="0" y="1739.0" font-size="28.0" font-family='"Liberation Serif", serif' textLength="118.1" lengthAdjust="spacing" stroke="#111" stroke-width="0.55">7000 rpm</text>
<text id="t101" transform="translate(850.0,0) scale(1.0,1)" x="0" y="1894.7" font-size="28.0" font-family='"Liberation Serif", serif' textLength="188.1" lengthAdjust="spacing" stroke="#111" stroke-width="0.55">Pressure ratio</text>
<text id="t102" transform="translate(1301.0,0) scale(1.0,1)" x="0" y="1894.7" font-size="28.0" font-family='"Liberation Serif", serif' textLength="57.0" lengthAdjust="spacing" stroke="#111" stroke-width="0.55">23.7</text>
<text id="t103" transform="translate(850.0,0) scale(1.0,1)" x="0" y="1963.0" font-size="28.0" font-family='"Liberation Serif", serif' textLength="133.0" lengthAdjust="spacing" stroke="#111" stroke-width="0.55">Efficiency</text>
<text id="t104" transform="translate(1301.0,0) scale(1.0,1)" x="0" y="1963.0" font-size="28.0" font-family='"Liberation Serif", serif' textLength="77.0" lengthAdjust="spacing" stroke="#111" stroke-width="0.55">58.2%</text>
<text id="t105" transform="translate(850.0,0) scale(1.0,1)" x="0" y="1996.0" font-size="28.0" font-family='"Liberation Serif", serif' textLength="152.0" lengthAdjust="spacing" stroke="#111" stroke-width="0.55">Horsepower</text>
<text id="t106" transform="translate(1301.0,0) scale(1.0,1)" x="0" y="1996.0" font-size="28.0" font-family='"Liberation Serif", serif' textLength="139.0" lengthAdjust="spacing" stroke="#111" stroke-width="0.55">27 140 bhp</text>
<text id="t107" transform="translate(850.0,0) scale(1.0,1)" x="0" y="2030.0" font-size="28.0" font-family='"Liberation Serif", serif' textLength="193.4" lengthAdjust="spacing" stroke="#111" stroke-width="0.55">Exhaust thrust</text>
<text id="t108" transform="translate(1301.0,0) scale(1.0,1)" x="0" y="2030.0" font-size="28.0" font-family='"Liberation Serif", serif' textLength="97.8" lengthAdjust="spacing" stroke="#111" stroke-width="0.55">3000 lb</text>
<text id="t109" transform="translate(850.0,0) scale(1.0,1)" x="0" y="1862.5" font-size="31.0" font-family='"Liberation Serif", serif' stroke="#111" stroke-width="0.55">P</text>
<text id="t110" transform="translate(870.4,0) scale(1.0,1)" x="0" y="1869.5" font-size="21.0" font-family='"Liberation Serif", serif' font-weight="bold" textLength="21.3" lengthAdjust="spacing" stroke="#111" stroke-width="0.55">in</text>
<text id="t111" transform="translate(1301.2,0) scale(1.0,1)" x="0" y="1859.7" font-size="28.0" font-family='"Liberation Serif", serif' textLength="110.8" lengthAdjust="spacing" stroke="#111" stroke-width="0.55">640 psia</text>
<text id="t112" transform="translate(850.0,0) scale(1.0,1)" x="0" y="1929.0" font-size="28.0" font-family='"Liberation Serif", serif' textLength="69.5" lengthAdjust="spacing" stroke="#111" stroke-width="0.55">Temp</text>
<text id="t113" transform="translate(923.0,0) scale(1.0,1)" x="0" y="1935.0" font-size="21.0" font-family='"Liberation Serif", serif' font-weight="bold" textLength="20.9" lengthAdjust="spacing" stroke="#111" stroke-width="0.55">in</text>
<text id="t114" transform="translate(1301.0,0) scale(1.0,1)" x="0" y="1929.0" font-size="28.0" font-family='"Liberation Serif", serif' textLength="61.2" lengthAdjust="spacing" stroke="#111" stroke-width="0.55">1400</text>
<text id="t115" transform="translate(1365.0,0) scale(1.0,1)" x="0" y="1923.0" font-size="26.0" font-family='"Liberation Serif", serif' stroke="#111" stroke-width="0.55">°</text>
<text id="t116" transform="translate(1396.0,0) scale(1.0,1)" x="0" y="1929.0" font-size="28.0" font-family='"Liberation Serif", serif' font-weight="bold" stroke="#111" stroke-width="0.55">F</text>
<text id="t117" transform="translate(683.0,0) scale(1.0,1)" x="0" y="1530.0" font-size="19.0" font-family='"Liberation Serif", serif' stroke="#111" stroke-width="0.55">3</text>
<text id="t118" transform="translate(683.0,0) scale(1.0,1)" x="0" y="1563.5" font-size="19.0" font-family='"Liberation Serif", serif' stroke="#111" stroke-width="0.55">3</text>
<text id="t119" transform="translate(619.0,0) scale(1.0,1)" x="0" y="1822.0" font-size="19.0" font-family='"Liberation Serif", serif' stroke="#111" stroke-width="0.55">2</text>
</g>
</svg>
</body></html>
